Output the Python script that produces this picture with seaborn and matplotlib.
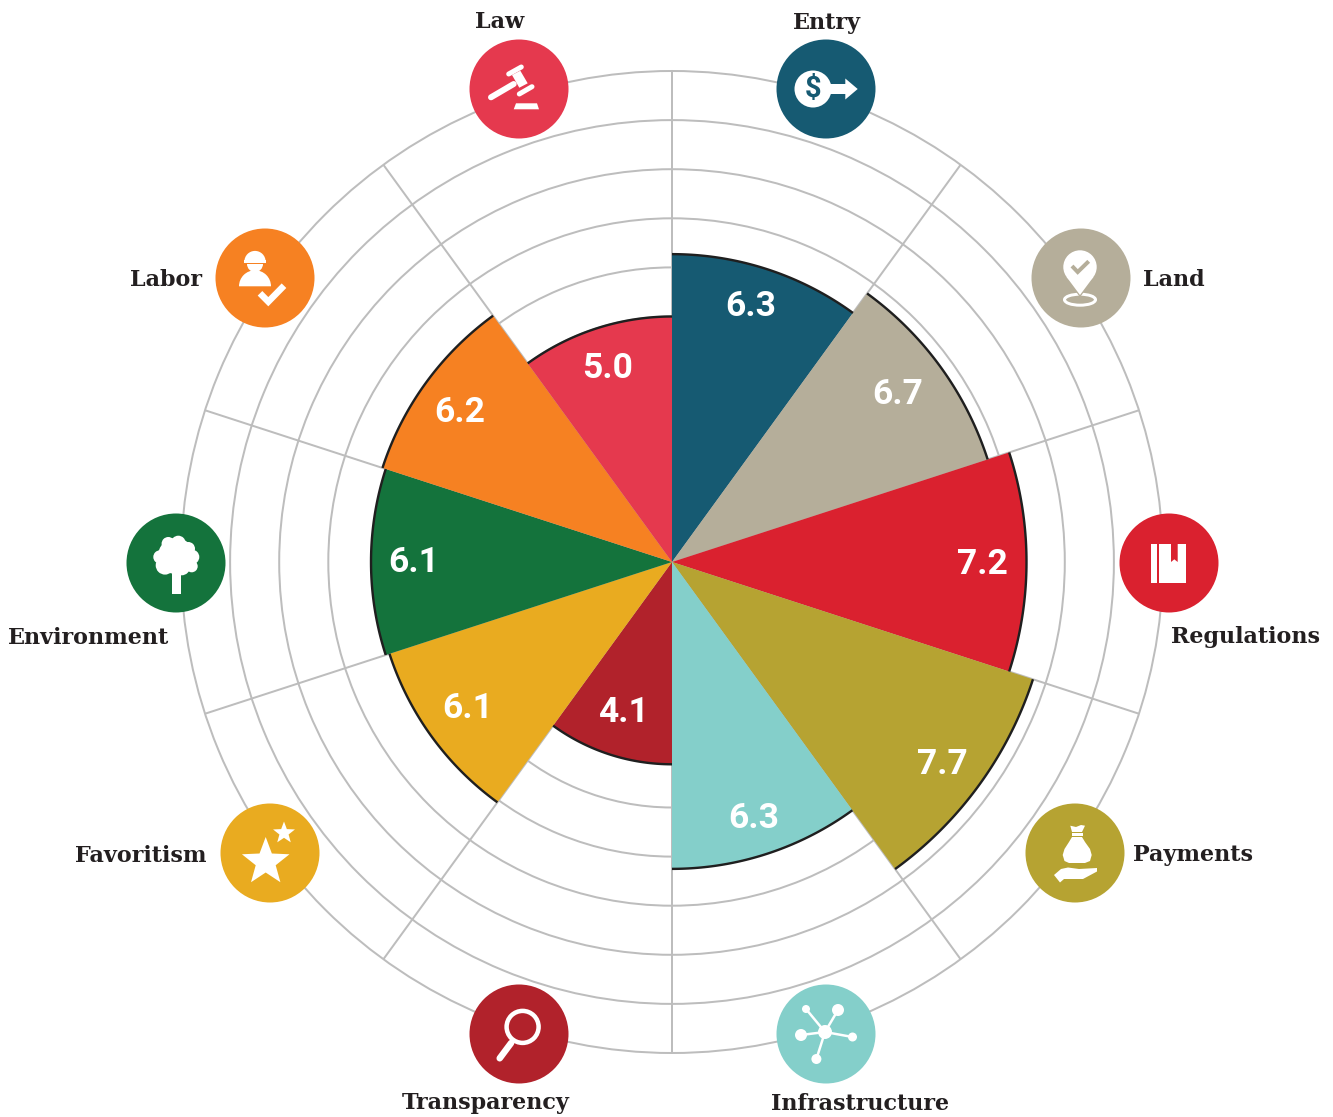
"""Polar score chart with one icon per category."""
import matplotlib
matplotlib.use("Agg")
import matplotlib.pyplot as plt
import numpy as np
import pandas as pd
import seaborn as sns
from matplotlib.patches import Circle, Ellipse, Polygon, Wedge

categories = ["Entry", "Land", "Regulations", "Payments", "Infrastructure",
              "Transparency", "Favoritism", "Environment", "Labor", "Law"]
bar_lengths = [6.27, 6.76, 7.22, 7.73, 6.25, 4.12, 6.05, 6.13, 6.2, 5.0]
score_labels = ["6.3", "6.7", "7.2", "7.7", "6.3", "4.1", "6.1", "6.1", "6.2", "5.0"]
colors = ["#165a72", "#b5ae9a", "#da212f", "#b6a332", "#84cfca",
          "#b1222b", "#e9ab20", "#14733c", "#f68122", "#e5394e"]

W, H = 1333, 1117
CX, CY, R_OUT = 672, 562, 491
GRID = "#bdbdbd"
INK = "#231f20"
SERIF = ["DejaVu Serif"]
PT = 72 / 100  # one pixel in points

# pixel placement of the decorations
icon_xy = [(826, 89), (1081, 278), (1169, 563), (1075, 853), (826, 1034),
           (519, 1034), (270, 853), (176, 563), (265, 278), (519, 89)]
name_xy = [(827, 20, "center"), (1143, 277, "left"), (1245, 635, "center"),
           (1133, 853, "left"), (860, 1101, "center"), (486, 1101, "center"),
           (207, 853, "right"), (89, 635, "center"), (202, 277, "right"),
           (500, 20, "center")]
score_xy = [(751, 306), (898, 395), (982, 564), (942, 764), (754, 818),
            (623, 713), (468, 709), (414, 562), (460, 412), (608, 369)]


def star(cx, cy, r):
    ang = np.deg2rad(np.arange(10) * 36 - 90)
    rad = np.where(np.arange(10) % 2 == 0, r, r * 0.42)
    return np.column_stack([cx + rad * np.cos(ang), cy + rad * np.sin(ang)])


def stroke(ax, x, y, pts, px, cap="round", color="white", join="round"):
    arr = np.array(pts, dtype=float)
    ax.plot(x + arr[:, 0], y + arr[:, 1], color=color, lw=px * PT,
            solid_capstyle=cap, solid_joinstyle=join, zorder=6)


def fill(ax, x, y, pts, color="white"):
    ax.add_patch(Polygon(np.array(pts, dtype=float) + [x, y], closed=True,
                         fc=color, ec="none", zorder=6))


def disc(ax, x, y, dx, dy, r, color="white"):
    ax.add_patch(Circle((x + dx, y + dy), r, fc=color, ec="none", zorder=6))


def icon_entry(ax, x, y, c):
    disc(ax, x, y, -13, 0, 18.5)
    fill(ax, x, y, [(3, -5), (19.3, -5), (19.3, -10.5), (31.7, 0),
                    (19.3, 10.5), (19.3, 5), (3, 5)])
    ax.text(x - 13, y + 0.5, "$", color=c, fontsize=21, fontfamily=["Roboto"],
            fontweight="bold", ha="center", va="center", zorder=7)


def icon_land(ax, x, y, c):
    ax.add_patch(Ellipse((x - 1, y + 21.7), 31, 11, fc="none", ec="white",
                         lw=3 * PT, zorder=6))
    fill(ax, x, y, [(-15.5, -2), (13.5, -2), (-1, 19.5)], c)
    disc(ax, x, y, -1, -11, 16.7)
    fill(ax, x, y, [(-14.4, -1), (12.4, -1), (-1, 17)])
    stroke(ax, x, y, [(-9, -12), (-3.3, -6), (7.7, -16.7)], 4, cap="butt", color=c, join="miter")


def icon_regulations(ax, x, y, c):
    fill(ax, x, y, [(-17.7, -19.3), (-12.3, -19.3), (-12.3, 19.7), (-17.7, 19.7)])
    fill(ax, x, y, [(-10, -19.3), (16.7, -19.3), (16.7, 19.7), (-10, 19.7)])
    fill(ax, x, y, [(2, -19.3), (8.7, -19.3), (8.7, -1), (5.3, -3.7), (2, -1)], c)


def icon_payments(ax, x, y, c):
    fill(ax, x, y, [(-3, -16), (7, -16), (10, -11), (15, -4), (16.7, 2), (15, 8), (10, 10),
                    (-6, 10), (-10.5, 8), (-12.3, 2), (-10.5, -4), (-6, -11)])
    fill(ax, x, y, [(-3.5, -20), (7.5, -20), (7.5, -17.5), (-3.5, -17.5)])
    fill(ax, x, y, [(-4.7, -27.3), (1, -26), (6, -28), (10, -27.3), (7, -21), (-3, -21)])
    fill(ax, x, y, [(-21, 22), (-14, 16), (-7, 14.5), (4, 16), (22, 15), (22, 18.5),
                    (8, 26), (-11, 26), (-15, 29.5)])


def icon_infrastructure(ax, x, y, c):
    nodes = [(-20, -25, 4), (12, -24, 6), (-25, 1, 6), (26.5, 3, 4.5), (-9.6, 25, 5)]
    for dx, dy, r in nodes:
        stroke(ax, x, y, [(-1, -2), (dx, dy)], 2.5)
        disc(ax, x, y, dx, dy, r)
    disc(ax, x, y, -1, -2, 7)


def icon_transparency(ax, x, y, c):
    ax.add_patch(Circle((x + 3.6, y - 7.1), 16, fc="none", ec="white", lw=4.5 * PT, zorder=6))
    stroke(ax, x, y, [(-7.9, 9), (-19.3, 24.3)], 6.5)


def icon_favoritism(ax, x, y, c):
    fill(ax, 0, 0, star(x - 4.3, y + 9, 25))
    fill(ax, 0, 0, star(x + 14, y - 20, 11.5))


def icon_environment(ax, x, y, c):
    blobs = [(-7.7, -19.3, 6.7), (2.3, -20, 7.3), (12.3, -14.3, 6.7), (16, -6, 7.3),
             (15.7, 3.3, 6), (5.7, 4, 8.3), (-11, 2.3, 9.3), (-16, -6, 6.7), (0, -7, 18)]
    for dx, dy, r in blobs:
        disc(ax, x, y, dx, dy, r)
    fill(ax, x, y, [(-3.7, 8), (5, 8), (5, 30.7), (-3.7, 30.7)])


def icon_labor(ax, x, y, c):
    ax.add_patch(Wedge((x - 10, y - 16.5), 10.6, 180, 360, fc="white", ec="none", zorder=6))
    fill(ax, x, y, [(-21, -18), (1, -18), (1, -15.5), (-21, -15.5)])
    ax.add_patch(Wedge((x - 10, y - 14), 8, 0, 180, fc="white", ec="none", zorder=6))
    ax.add_patch(Wedge((x - 10, y + 8.3), 16, 180, 360, fc="white", ec="none", zorder=6))
    stroke(ax, x, y, [(-5, 15.3), (3.3, 23.7), (19, 7.7)], 6.5, cap="butt", join="miter")


def icon_law(ax, x, y, c):
    stroke(ax, x, y, [(-28, 8.3), (-5.3, -5)], 6)
    fill(ax, x, y, [(-7, -14), (1.3, -18.3), (8.7, -5.7), (0.3, -1.3)])
    stroke(ax, x, y, [(-10.3, -15), (2.3, -22)], 5)
    stroke(ax, x, y, [(0.3, 5), (13, -2.3)], 5)
    fill(ax, x, y, [(-5.3, 20.3), (20, 20.3), (18, 14.3), (-3, 14.3)])


icon_funcs = [icon_entry, icon_land, icon_regulations, icon_payments, icon_infrastructure,
              icon_transparency, icon_favoritism, icon_environment, icon_labor, icon_law]

sns.set_theme(style="white")

fig = plt.figure(figsize=(W / 100, H / 100), dpi=100, facecolor="white")
ax = fig.add_axes([(CX - R_OUT) / W, (H - CY - R_OUT) / H, 2 * R_OUT / W, 2 * R_OUT / H],
                  projection="polar")
ax.set_theta_zero_location("N")
ax.set_theta_direction(-1)

step = 2 * np.pi / len(categories)
centers = step * (np.arange(len(categories)) + 0.5)
df = pd.DataFrame({"theta": centers, "score": bar_lengths, "category": categories})

sns.barplot(data=df, x="theta", y="score", hue="category",
            palette=dict(zip(categories, colors)), native_scale=True, orient="x",
            dodge=False, width=1, saturation=1, errorbar=None, legend=False,
            linewidth=0, ax=ax, zorder=3)

# dark rim along the outer edge of each wedge
for t, v in zip(centers, bar_lengths):
    ax.plot(np.linspace(t - step / 2, t + step / 2, 60), np.full(60, v),
            color="#1f1f1f", lw=2.4 * PT, solid_capstyle="butt", zorder=4)

ax.set_xlim(0, 2 * np.pi)
ax.set_ylim(0, 10)
ax.set_xlabel("")
ax.set_ylabel("")
ax.set_thetagrids(np.arange(0, 360, 36), labels=[""] * 10)
ax.set_rgrids(np.arange(1, 10), labels=[""] * 9)
ax.set_axisbelow(True)
ax.grid(True, color=GRID, lw=2 * PT)
ax.spines["polar"].set_visible(True)
ax.spines["polar"].set(color=GRID, lw=2 * PT)
ax.patch.set_alpha(0)

# overlay in pixel coordinates for icons and text
over = fig.add_axes([0, 0, 1, 1], facecolor="none")
over.set_xlim(0, W)
over.set_ylim(H, 0)
over.axis("off")

for name, col, (ix, iy), (nx, ny, ha), (sx, sy), lab, draw in zip(
        categories, colors, icon_xy, name_xy, score_xy, score_labels, icon_funcs):
    over.add_patch(Circle((ix, iy), 49.5, fc=col, ec="none", zorder=5))
    draw(over, ix, iy, col)
    over.text(nx, ny, name, ha=ha, va="center_baseline", color=INK, fontsize=16,
              fontweight="bold", fontfamily=SERIF, zorder=7)
    over.text(sx, sy, lab, ha="center", va="center", color="white", fontsize=25.5,
              fontweight="bold", fontfamily=["Roboto"], zorder=7)

fig.savefig("out.png", dpi=100)
